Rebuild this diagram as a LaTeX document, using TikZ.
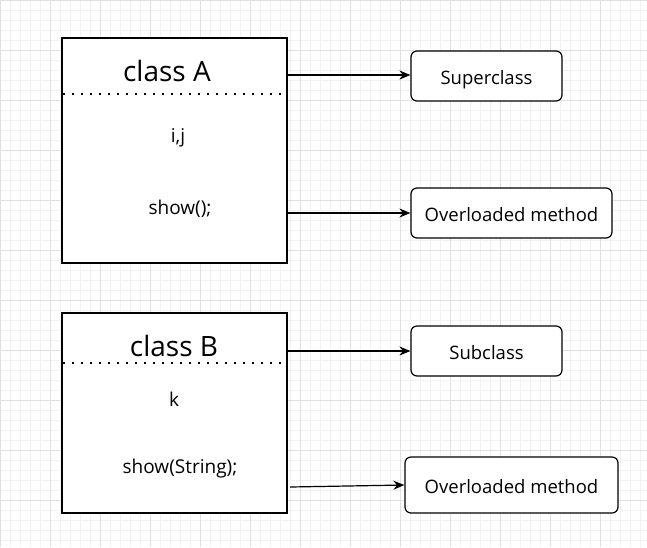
\documentclass[tikz,border=0pt]{standalone}
\usepackage{fontspec}
\setmainfont{Open Sans}
\usetikzlibrary{arrows.meta}
\tikzset{
  classbox/.style={draw=black, line width=1.3pt, fill=white, minimum width=225pt, inner sep=0pt},
  tagbox/.style={draw=black, line width=1.2pt, fill=white, rounded corners=6pt, minimum height=50pt, inner sep=0pt},
  titletext/.style={font=\fontsize{28}{30}\selectfont, inner sep=0pt},
  bodytext/.style={font=\fontsize{19}{22}\selectfont, inner sep=0pt},
  tagtext/.style={font=\fontsize{18.5}{22}\selectfont, text height=16pt, text depth=0pt},
  dotline/.style={line width=2pt, dash pattern=on 2pt off 7pt},
  conn/.style={line width=1.2pt, -{Stealth[length=11pt,width=9pt]}},
}
\begin{document}
\begin{tikzpicture}[x=1pt,y=-1pt]
\useasboundingbox (0,0) rectangle (647,547);
\fill[white] (0,0) rectangle (647,547);
\draw[black!5, line width=0.8pt] (0,0) grid[step=10pt] (647,547);
\draw[black!12, line width=0.8pt] (0,0) grid[step=50pt] (647,547);
% class boxes
\node[classbox, minimum height=225pt] (A) at (174.5,150.5) {};
\node[classbox, minimum height=200pt] (B) at (174.5,413) {};
\draw[dotline] (63,93.5) -- (287,93.5);
\draw[dotline] (63,362.5) -- (287,362.5);
\node[titletext] (tA) at (167,71) {class A};
\node[titletext] (tB) at (174,346) {class B};
\node[bodytext] (ij) at (178,138) {i,j};
\node[bodytext] (showA) at (180,209) {show();};
\node[bodytext] (k) at (174,399) {k};
\node[bodytext] (showB) at (180,469) {show(String);};
% tag boxes
\node[tagbox, tagtext, minimum width=151pt] (sup) at (486.5,76) {Superclass};
\node[tagbox, tagtext, minimum width=201pt] (ov1) at (511.5,213) {Overloaded method};
\node[tagbox, tagtext, minimum width=151pt] (sub) at (486.5,351) {Subclass};
\node[tagbox, tagtext, minimum width=213pt, minimum height=56pt] (ov2) at (511.5,485) {Overloaded method};
% connectors
\coordinate (s4) at (290,487);
\draw[conn] (A.east |- 0,75) -- (sup.west |- 0,75);
\draw[conn] (A.east |- ov1.west) -- (ov1.west);
\draw[conn] (B.east |- sub.west) -- (sub.west);
\draw[conn] (s4) -- (ov2.west);
\end{tikzpicture}
\end{document}
